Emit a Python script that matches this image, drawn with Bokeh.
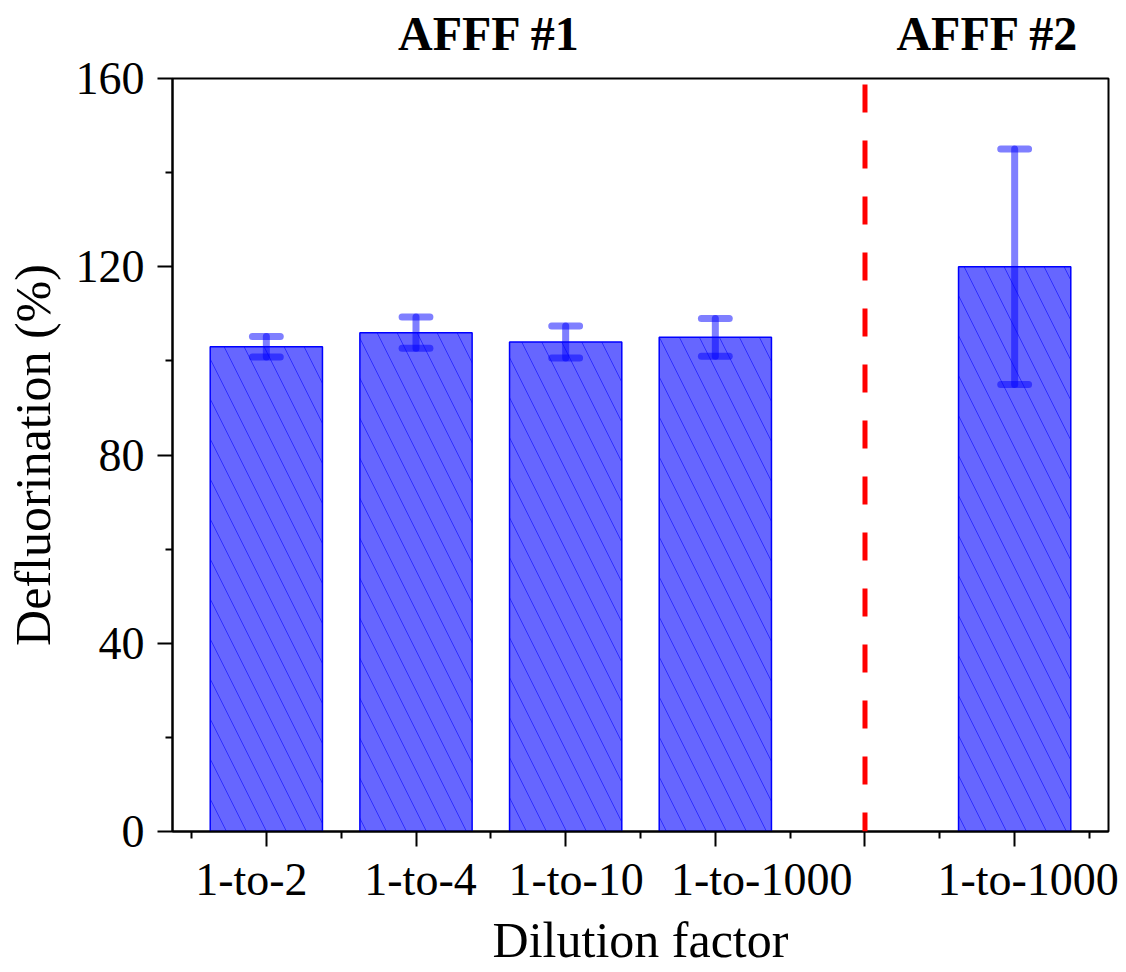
from bokeh.plotting import figure
from bokeh.models import ColumnDataSource, FixedTicker, Span, Range1d, LinearAxis
from bokeh.embed import file_html
from bokeh.resources import INLINE

# ---- data ----
categories = ["1-to-2", "1-to-4", "1-to-10", "1-to-1000", "1-to-1000"]
x_pos = [1, 2, 3, 4, 6]
defluorination = [103.0, 106.0, 104.0, 105.0, 120.0]
err = [2.2, 3.3, 3.4, 4.0, 25.0]
group_labels = ["AFFF #1", "AFFF #2"]
divider_x = 5
y_ticks = [0, 40, 80, 120, 160]
y_minor = [20, 60, 100, 140]

# text placement (as in the original figure, labels sit slightly off their ticks)
label_x = [0.90, 2.03, 3.07, 4.31, 6.09]
group_x = [2.49, 5.82]

FONT = "Liberation Serif"

p = figure(frame_width=936, frame_height=753, output_backend="svg", toolbar_location=None,
           x_range=Range1d(0.373, 6.627), y_range=Range1d(0, 160),
           min_border_left=172, min_border_right=18, min_border_top=78, min_border_bottom=141)

src = ColumnDataSource(dict(
    x=x_pos, top=defluorination,
    lo=[v - e for v, e in zip(defluorination, err)],
    hi=[v + e for v, e in zip(defluorination, err)],
    cl=[x - 0.093 for x in x_pos], cr=[x + 0.093 for x in x_pos],
))

p.vbar(x="x", top="top", bottom=0, width=0.75, source=src,
       fill_color="blue", fill_alpha=0.6, line_color="blue", line_width=1.5,
       hatch_pattern="\\", hatch_color="blue", hatch_alpha=0.55, hatch_scale=40, hatch_weight=1)

for a, b, c, d in (("x", "lo", "x", "hi"), ("cl", "lo", "cr", "lo"), ("cl", "hi", "cr", "hi")):
    p.segment(x0=a, y0=b, x1=c, y1=d, source=src,
              line_color="blue", line_alpha=0.5, line_width=7, line_cap="round")

p.add_layout(Span(location=divider_x, dimension="height", line_color="red",
                  line_width=5, line_dash="28 28", line_dash_offset=50))

p.xgrid.visible = False
p.ygrid.visible = False
p.outline_line_color = "black"
p.outline_line_width = 2
p.outline_line_alpha = 1

def style(ax):
    ax.axis_line_width = 2
    ax.axis_line_color = "black"
    ax.major_tick_line_width = 2
    ax.minor_tick_line_width = 2
    ax.major_tick_line_color = "black"
    ax.minor_tick_line_color = "black"
    ax.major_tick_out = 15
    ax.major_tick_in = 0
    ax.minor_tick_out = 7
    ax.minor_tick_in = 0
    ax.major_label_text_font = FONT
    ax.major_label_text_font_size = "46px"
    ax.major_label_text_color = "black"
    ax.axis_label_text_font = FONT
    ax.axis_label_text_font_size = "50px"
    ax.axis_label_text_font_style = "normal"
    ax.axis_label_text_color = "black"

# x axis: ticks only
xa = p.xaxis[0]
style(xa)
xa.ticker = FixedTicker(ticks=[1, 2, 3, 4, 5, 6],
                        minor_ticks=[0.5, 1.5, 2.5, 3.5, 4.5, 5.5, 6.5])
xa.major_label_overrides = {t: "" for t in [1, 2, 3, 4, 5, 6]}
xa.major_label_text_font_size = "1px"
xa.major_label_standoff = 0

# x axis: category labels + axis title
xl = LinearAxis()
style(xl)
xl.ticker = FixedTicker(ticks=label_x, minor_ticks=[])
xl.major_label_overrides = {lx: c for lx, c in zip(label_x, categories)}
xl.axis_line_color = None
xl.major_tick_line_color = None
xl.minor_tick_line_color = None
xl.major_tick_out = 0
xl.minor_tick_out = 0
xl.major_label_standoff = 7
xl.axis_label = "Dilution factor"
xl.axis_label_standoff = 4
p.add_layout(xl, "below")

# group headings on top
xt = LinearAxis()
style(xt)
xt.ticker = FixedTicker(ticks=group_x, minor_ticks=[])
xt.major_label_overrides = {gx: g for gx, g in zip(group_x, group_labels)}
xt.axis_line_color = None
xt.major_tick_line_color = None
xt.minor_tick_line_color = None
xt.major_tick_out = 0
xt.minor_tick_out = 0
xt.major_label_text_font_size = "48px"
xt.major_label_text_font_style = "bold"
xt.major_label_standoff = 19
p.add_layout(xt, "above")

# y axis
ya = p.yaxis[0]
style(ya)
ya.ticker = FixedTicker(ticks=y_ticks, minor_ticks=y_minor)
ya.axis_label = "Defluorination (%)"
ya.major_label_standoff = 13
ya.axis_label_standoff = 12

open("out.html", "w").write(file_html(p, INLINE))
